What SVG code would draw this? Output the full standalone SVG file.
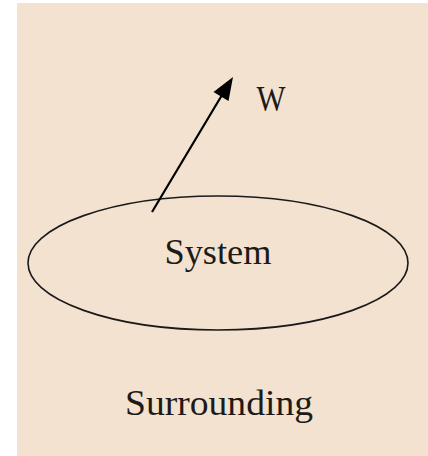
<svg xmlns="http://www.w3.org/2000/svg" width="428" height="456" viewBox="0 0 428 456">
<defs>
<style>
.lbl{font-family:"Liberation Serif","DejaVu Serif",serif;fill:#1e1a17;}
</style>
</defs>
<rect x="0" y="0" width="428" height="456" fill="#ffffff"/>
<rect x="17" y="3" width="411" height="453" fill="#f3e2d0"/>
<g id="system">
<ellipse cx="218" cy="263" rx="190" ry="67" fill="none" stroke="#1a1a1a" stroke-width="1.6"/>
<text class="lbl" x="218" y="264" font-size="35" text-anchor="middle" textLength="107" lengthAdjust="spacingAndGlyphs">System</text>
</g>
<g id="surrounding">
<text class="lbl" x="219" y="415" font-size="35" text-anchor="middle" textLength="188" lengthAdjust="spacingAndGlyphs">Surrounding</text>
</g>
<g id="work">
<text class="lbl" x="271" y="111" font-size="35" text-anchor="middle" textLength="29" lengthAdjust="spacingAndGlyphs">W</text>
</g>
<g id="connectors">
<line x1="152" y1="212" x2="222" y2="95" stroke="#000" stroke-width="2.2"/>
<path d="M233,77 L228.5,101 L213.5,92 z" fill="#000"/>
</g>
</svg>
